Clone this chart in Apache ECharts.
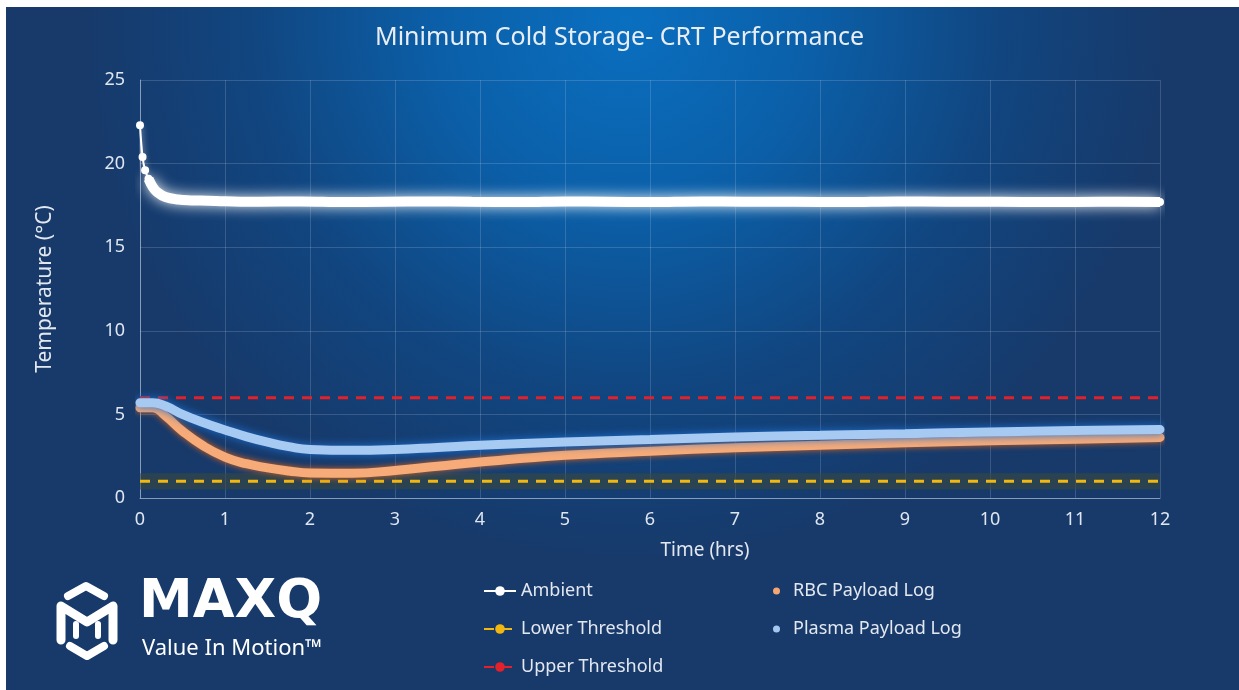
<!DOCTYPE html>
<html>
<head>
<meta charset="utf-8">
<title>Minimum Cold Storage- CRT Performance</title>
<script src="https://cdn.jsdelivr.net/npm/echarts@6.0.0/dist/echarts.min.js"></script>
<style>
  html, body { margin: 0; padding: 0; background: #ffffff; }
  #chart { width: 1239px; height: 690px; }
</style>
</head>
<body>
<div id="chart"></div>
<script>
// ambient probe (hrs, degC)
var ambientHours = [0, 0.03, 0.06, 0.1, 0.15, 0.2, 0.3, 0.45, 0.6, 0.8, 1, 1.4, 1.9, 2.4, 2.9, 3.4, 3.9, 4.5, 5, 5.5, 6, 6.6, 7.1, 7.7, 8.3, 8.9, 9.5, 10.1, 10.7, 11.3, 12];
var ambientTemp = [22.3, 20.4, 19.6, 19.1, 18.6, 18.3, 18.0, 17.85, 17.8, 17.78, 17.75, 17.72, 17.74, 17.7, 17.72, 17.74, 17.72, 17.7, 17.74, 17.72, 17.7, 17.74, 17.72, 17.72, 17.7, 17.74, 17.72, 17.72, 17.7, 17.72, 17.7];

// payload logs
var payloadHours = [0, 0.15, 0.3, 0.5, 0.75, 1, 1.25, 1.5, 1.75, 2, 2.5, 3, 3.5, 4, 5, 6, 7, 8, 9, 10, 11, 12];
var rbcTemp = [5.4, 5.4, 4.9, 4.0, 3.1, 2.45, 2.05, 1.8, 1.62, 1.5, 1.48, 1.65, 1.9, 2.15, 2.55, 2.8, 3.0, 3.15, 3.3, 3.42, 3.52, 3.62];
var plasmaTemp = [5.7, 5.7, 5.5, 5.0, 4.5, 4.07, 3.67, 3.34, 3.07, 2.9, 2.85, 2.9, 3.02, 3.15, 3.35, 3.5, 3.65, 3.75, 3.85, 3.95, 4.03, 4.1];

// thresholds
var thresholdHours = [0, 12];
var lowerThreshold = 1;
var upperThreshold = 6;

function pairs(xs, ys) {
    var out = [];
    for (var i = 0; i < xs.length; i++) {
        out.push([xs[i], ys[i]]);
    }
    return out;
}
function flat(xs, v) {
    return xs.map(function (x) { return [x, v]; });
}

var font = '"Noto Sans", Lato, sans-serif';
var ambientData = pairs(ambientHours, ambientTemp);

var chart = echarts.init(document.getElementById('chart'));
chart.setOption({
    animation: false,
    backgroundColor: {
        type: 'radial', x: 0.505, y: 0.03, r: 0.78,
        colorStops: [
            { offset: 0, color: '#0a6fc0' },
            { offset: 0.35, color: '#0b5fa8' },
            { offset: 0.7, color: '#11457f' },
            { offset: 1, color: '#173a6b' }
        ]
    },
    title: {
        text: 'Minimum Cold Storage- CRT Performance',
        left: 'center',
        top: 20,
        textStyle: { color: '#e9eef6', fontSize: 25, fontWeight: 'normal', fontFamily: font }
    },
    grid: { left: 140, right: 79, top: 80, bottom: 192 },
    legend: [{
        orient: 'vertical',
        left: 478,
        top: 576,
        itemWidth: 32,
        itemHeight: 12,
        itemGap: 18,
        textStyle: { color: '#e3e8f0', fontSize: 18, fontFamily: font, lineHeight: 20 },
        data: ['Ambient', 'Lower Threshold', 'Upper Threshold']
    }, {
        orient: 'vertical',
        left: 768,
        top: 576,
        icon: 'circle',
        itemWidth: 7,
        itemHeight: 7,
        itemGap: 18,
        textStyle: { color: '#e3e8f0', fontSize: 18, fontFamily: font, lineHeight: 20, padding: [0, 0, 0, 8] },
        data: ['RBC Payload Log', 'Plasma Payload Log']
    }],
    xAxis: {
        type: 'value',
        min: 0,
        max: 12,
        interval: 1,
        name: 'Time (hrs)',
        nameLocation: 'middle',
        nameGap: 43,
        nameTextStyle: { color: '#e3e8f0', fontSize: 19, fontFamily: font, padding: [0, 0, 0, 110] },
        axisLine: { lineStyle: { color: 'rgba(200,212,230,0.55)', width: 1 } },
        axisTick: { show: false },
        axisLabel: { color: '#dfe6f0', fontSize: 18, fontFamily: font, margin: 13 },
        splitLine: { show: true, lineStyle: { color: 'rgba(200,212,230,0.2)', width: 1 } }
    },
    yAxis: {
        type: 'value',
        min: 0,
        max: 25,
        interval: 5,
        name: 'Temperature (°C)',
        nameLocation: 'middle',
        nameGap: 84,
        nameTextStyle: { color: '#e3e8f0', fontSize: 21, fontFamily: font },
        axisLine: { show: true, lineStyle: { color: 'rgba(200,212,230,0.55)', width: 1 } },
        axisTick: { show: false },
        axisLabel: { color: '#dfe6f0', fontSize: 18, fontFamily: font, margin: 15 },
        splitLine: { show: true, lineStyle: { color: 'rgba(200,212,230,0.2)', width: 1 } }
    },
    series: [{
        name: 'lowerBand',
        type: 'line',
        symbol: 'none',
        data: flat(thresholdHours, lowerThreshold),
        lineStyle: { color: 'rgba(60,72,58,0.55)', width: 16 },
        silent: true,
        z: 2
    }, {
        name: 'Lower Threshold',
        type: 'line',
        symbol: 'none',
        data: flat(thresholdHours, lowerThreshold),
        itemStyle: { color: '#f2b80f' },
        lineStyle: { color: '#f2b80f', width: 3, type: [10, 8] },
        z: 3
    }, {
        name: 'Upper Threshold',
        type: 'line',
        symbol: 'none',
        data: flat(thresholdHours, upperThreshold),
        itemStyle: { color: '#e2212b' },
        lineStyle: { color: '#e2212b', width: 3, type: [10, 8] },
        z: 3
    }, {
        name: 'ambientGlow',
        type: 'line',
        symbol: 'none',
        smooth: 0.4,
        data: ambientData.slice(3),
        lineStyle: { color: '#ffffff', width: 10, shadowBlur: 14, shadowColor: 'rgba(255,255,255,0.95)' },
        silent: true,
        z: 4
    }, {
        name: 'Ambient',
        type: 'line',
        symbol: 'circle',
        symbolSize: 8,
        smooth: 0.4,
        data: ambientData,
        itemStyle: { color: '#ffffff' },
        lineStyle: { color: '#ffffff', width: 2, shadowBlur: 6, shadowColor: 'rgba(255,255,255,0.8)' },
        z: 5
    }, {
        name: 'RBC Payload Log',
        type: 'line',
        symbol: 'none',
        smooth: 0.5,
        data: pairs(payloadHours, rbcTemp),
        itemStyle: { color: '#f5a673' },
        lineStyle: { color: '#f7ab78', width: 9, cap: 'round', shadowBlur: 6, shadowColor: '#d8641e' },
        z: 6
    }, {
        name: 'Plasma Payload Log',
        type: 'line',
        symbol: 'none',
        smooth: 0.5,
        data: pairs(payloadHours, plasmaTemp),
        itemStyle: { color: '#a3c8f0' },
        lineStyle: { color: '#a6caf1', width: 9, cap: 'round', shadowBlur: 9, shadowColor: '#1f6fd0' },
        z: 7
    }],
    graphic: [
        // white frame of the original screenshot
        { type: 'rect', left: 0, top: 0, shape: { width: 6, height: 690 }, style: { fill: '#ffffff' }, z: 100 },
        { type: 'rect', left: 0, top: 0, shape: { width: 1239, height: 7 }, style: { fill: '#ffffff' }, z: 100 },
        // logo mark
        {
            type: 'group', z: 50,
            children: [
                { type: 'polyline', shape: { points: [[68, 596], [86, 586], [104, 596]] }, style: { stroke: '#fff', lineWidth: 8, fill: null, lineCap: 'round', lineJoin: 'round' } },
                { type: 'polyline', shape: { points: [[61, 640], [61, 606], [87, 622], [113, 606], [113, 640]] }, style: { stroke: '#fff', lineWidth: 9, fill: null, lineCap: 'round', lineJoin: 'round' } },
                { type: 'polyline', shape: { points: [[76, 624], [76, 636]] }, style: { stroke: '#fff', lineWidth: 6, fill: null, lineCap: 'round' } },
                { type: 'polyline', shape: { points: [[98, 624], [98, 636]] }, style: { stroke: '#fff', lineWidth: 6, fill: null, lineCap: 'round' } },
                { type: 'polyline', shape: { points: [[70, 646], [87, 656], [104, 646]] }, style: { stroke: '#fff', lineWidth: 8, fill: null, lineCap: 'round', lineJoin: 'round' } }
            ]
        },
        {
            type: 'text', left: 139, top: 576, z: 50,
            style: { text: 'MAXQ', fill: '#ffffff', font: 'bold 54px "DejaVu Sans", sans-serif' }
        },
        {
            type: 'text', left: 142, top: 638, z: 50,
            style: { text: 'Value In Motion\u2122', fill: '#ffffff', font: '22px "Noto Sans", Lato, sans-serif' }
        }
    ]
});
</script>
</body>
</html>
